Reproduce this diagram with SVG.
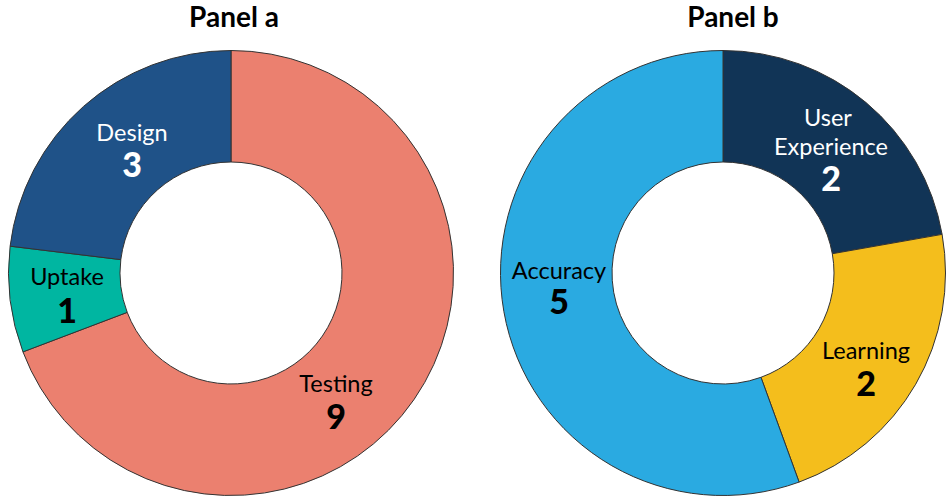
<svg xmlns="http://www.w3.org/2000/svg" width="948" height="504" viewBox="0 0 948 504">
<style>
.seg{stroke:#333;stroke-width:1;stroke-linejoin:round}
.title{font-family:Lato,"Liberation Sans",sans-serif;font-weight:bold;font-size:28px;fill:#000;text-anchor:middle}
.lbl{font-family:Lato,"Liberation Sans",sans-serif;font-size:23.5px;text-anchor:middle}
.num{font-family:Lato,"Liberation Sans",sans-serif;font-weight:900;font-size:34px;text-anchor:middle}
.w{fill:#fff}.k{fill:#000}
</style>
<rect width="948" height="504" fill="#fff"/>
<text class="title" x="234" y="27">Panel a</text>
<text class="title" x="733" y="27">Panel b</text>
<g id="testing">
<path class="seg" fill="#EB806F" d="M231,50.5 A222.5,222.5 0 1 1 22.96,351.9 L127.21,312.36 A111,111 0 1 0 231,162 Z"/>
<text class="lbl k" x="336" y="392">Testing</text>
<text class="num k" x="336" y="429">9</text>
</g>
<g id="uptake">
<path class="seg" fill="#00B6A1" d="M22.96,351.9 A222.5,222.5 0 0 1 10.12,246.18 L120.81,259.62 A111,111 0 0 0 127.21,312.36 Z"/>
<text class="lbl k" x="67" y="285">Uptake</text>
<text class="num k" x="67" y="323">1</text>
</g>
<g id="design">
<path class="seg" fill="#1F5288" d="M10.12,246.18 A222.5,222.5 0 0 1 231,50.5 L231,162 A111,111 0 0 0 120.81,259.62 Z"/>
<text class="lbl w" x="132" y="141">Design</text>
<text class="num w" x="132" y="177">3</text>
</g>
<g id="user-experience">
<path class="seg" fill="#113456" d="M723,50.5 A222.5,222.5 0 0 1 942.12,234.36 L832.31,253.72 A111,111 0 0 0 723,162 Z"/>
<text class="lbl w" x="828" y="126">User</text>
<text class="lbl w" x="831" y="155">Experience</text>
<text class="num w" x="831" y="191">2</text>
</g>
<g id="learning">
<path class="seg" fill="#F4BE1C" d="M942.12,234.36 A222.5,222.5 0 0 1 799.1,482.08 L760.96,377.31 A111,111 0 0 0 832.31,253.72 Z"/>
<text class="lbl k" x="866" y="359">Learning</text>
<text class="num k" x="866" y="396">2</text>
</g>
<g id="accuracy">
<path class="seg" fill="#2AAAE1" d="M799.1,482.08 A222.5,222.5 0 1 1 723,50.5 L723,162 A111,111 0 1 0 760.96,377.31 Z"/>
<text class="lbl k" x="559" y="279">Accuracy</text>
<text class="num k" x="559" y="314">5</text>
</g>
<g id="connectors"></g>
</svg>
